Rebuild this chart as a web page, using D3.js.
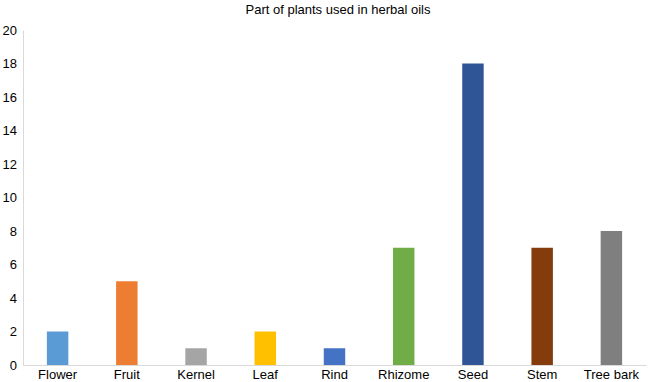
<!DOCTYPE html>
<html>
<head>
<meta charset="utf-8">
<script src="https://cdn.jsdelivr.net/npm/d3@7"></script>
<style>
    body { margin: 0; background: #fff; }
    text { font-family: "Liberation Sans", Arial, sans-serif; fill: #000; }
</style>
</head>
<body>
<div id="chart"></div>
<script>
// chart data
const categories = ["Flower", "Fruit", "Kernel", "Leaf", "Rind", "Rhizome", "Seed", "Stem", "Tree bark"];
const counts = [2, 5, 1, 2, 1, 7, 18, 7, 8];
const barColors = ["#5b9bd5", "#ed7d31", "#a5a5a5", "#ffc000", "#4472c4", "#70ad47", "#2f5597", "#843c0c", "#7f7f7f"];
const yTicks = [0, 2, 4, 6, 8, 10, 12, 14, 16, 18, 20];
const title = "Part of plants used in herbal oils";

const width = 650, height = 382;
const margin = {top: 30, right: 4, bottom: 17, left: 23};

let svg = d3.select("#chart").append("svg")
    .attr("width", width)
    .attr("height", height);

let x = d3.scaleBand()
    .domain(categories)
    .range([margin.left, width - margin.right])
    .paddingInner(0.69)
    .paddingOuter(0.345);

let y = d3.scaleLinear()
    .domain([0, 20])
    .range([height - margin.bottom, margin.top]);

// title
svg.append("text")
    .attr("x", 338)
    .attr("y", 14)
    .attr("text-anchor", "middle")
    .style("font-size", "13px")
    .text(title);

// y axis
let yAxis = svg.append("g")
    .attr("transform", `translate(${margin.left},0)`)
    .call(d3.axisLeft(y).tickValues(yTicks).tickSize(0).tickPadding(6));
yAxis.select(".domain").attr("stroke", "#d9d9d9");
yAxis.selectAll("text").style("font-size", "13px").style("font-family", "Liberation Sans, Arial, sans-serif");

// x axis
let xAxis = svg.append("g")
    .attr("transform", `translate(0,${height - margin.bottom})`)
    .call(d3.axisBottom(x).tickSize(0).tickPadding(5));
xAxis.select(".domain").attr("stroke", "#d9d9d9");
xAxis.selectAll("text").style("font-size", "13px").style("font-family", "Liberation Sans, Arial, sans-serif");

// bars
svg.append("g").selectAll("rect")
    .data(categories)
    .enter()
    .append("rect")
    .attr("x", d => x(d))
    .attr("width", x.bandwidth())
    .attr("y", (d, i) => y(counts[i]))
    .attr("height", (d, i) => y(0) - y(counts[i]))
    .attr("fill", (d, i) => barColors[i]);
</script>
</body>
</html>
